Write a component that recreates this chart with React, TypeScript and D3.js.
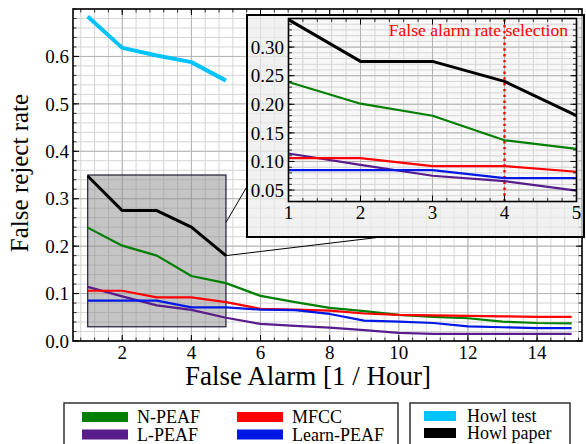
import React from "react";
import { scaleLinear, line, range } from "d3";

// false alarms per hour
const falseAlarms = [1, 2, 3, 4, 5, 6, 7, 8, 9, 10, 11, 12, 13, 14, 15];

const nPeaf = [0.239, 0.201, 0.18, 0.137, 0.122, 0.095, 0.082, 0.07, 0.063, 0.055, 0.051, 0.048, 0.041, 0.038, 0.037];
const lPeaf = [0.114, 0.094, 0.075, 0.0655, 0.049, 0.036, 0.032, 0.028, 0.023, 0.017, 0.015, 0.015, 0.015, 0.015, 0.015];
const mfcc = [0.106, 0.106, 0.092, 0.092, 0.082, 0.068, 0.066, 0.064, 0.058, 0.055, 0.054, 0.053, 0.052, 0.051, 0.051];
const learnPeaf = [0.085, 0.085, 0.085, 0.071, 0.071, 0.066, 0.065, 0.057, 0.043, 0.041, 0.038, 0.031, 0.029, 0.027, 0.027];
const howlTest = [0.684, 0.618, 0.602, 0.588, 0.549];
const howlPaper = [0.348, 0.275, 0.275, 0.24, 0.18];

const xTicks = [2, 4, 6, 8, 10, 12, 14];
const yTicks = [0, 0.1, 0.2, 0.3, 0.4, 0.5, 0.6];
const insetXTicks = [1, 2, 3, 4, 5];
const insetYTicks = [0.05, 0.1, 0.15, 0.2, 0.25, 0.3];

const zoomBox = { x0: 1, x1: 5, y0: 0.03, y1: 0.35 };
const selectedRate = 4;

const series = [
  { name: "N-PEAF", values: nPeaf, color: "#007f00", width: 2.2 },
  { name: "L-PEAF", values: lPeaf, color: "#581c8c", width: 2.2 },
  { name: "MFCC", values: mfcc, color: "#ff0000", width: 2.2 },
  { name: "Learn-PEAF", values: learnPeaf, color: "#0018e6", width: 2.2 },
  { name: "Howl test", values: howlTest, color: "#00c3fa", width: 4 },
  { name: "Howl paper", values: howlPaper, color: "#000000", width: 3 },
];

const serif: React.CSSProperties = { fontFamily: "'Liberation Serif'" };

export default function App() {
  const W = 586;
  const H = 444;

  const x = scaleLinear().domain([0.575, 15.3]).range([73, 582]);
  const y = scaleLinear().domain([0, 0.7]).range([341, 9]);

  const ix = scaleLinear().domain([1, 5]).range([288.5, 576.5]);
  const iy = scaleLinear().domain([0.03, 0.35]).range([201.5, 18.5]);

  const mainLine = line<number>().x((_, i) => x(falseAlarms[i])).y((d) => y(d));
  const insetLine = line<number>().x((_, i) => ix(falseAlarms[i])).y((d) => iy(d));

  const xMinor = range(0.8, 15.3, 0.4);
  const yMinor = range(0, 0.7001, 0.02);
  const ixMinor = range(1, 5.001, 0.2);
  const iyMinor = range(0.03, 0.3501, 0.01);

  const [xa, xb] = x.range();
  const [ya, yb] = y.range();
  const [ixa, ixb] = ix.range();
  const [iya, iyb] = iy.range();

  // inset frame (figure patch around inset axes)
  const frame = { x: 247, y: 15, w: 337, h: 222 };

  // legend order: row by row
  const legendA = [series[0], series[2], series[1], series[3]];
  const legendB = [series[4], series[5]];

  return (
    <div style={{ position: "absolute", left: 0, top: 0 }}>
      <svg width={W} height={H} style={{ display: "block", background: "#fff", ...serif }}>
        {/* main grid */}
        <g>
          {xMinor.map((v) => (
            <line key={"xm" + v} x1={x(v)} x2={x(v)} y1={yb} y2={ya} stroke="#d4d4d4" strokeWidth={1} />
          ))}
          {yMinor.map((v) => (
            <line key={"ym" + v} x1={xa} x2={xb} y1={y(v)} y2={y(v)} stroke="#d4d4d4" strokeWidth={1} />
          ))}
          {xTicks.map((v) => (
            <line key={"xg" + v} x1={x(v)} x2={x(v)} y1={yb} y2={ya} stroke="#b4b4b4" strokeWidth={1} />
          ))}
          {yTicks.map((v) => (
            <line key={"yg" + v} x1={xa} x2={xb} y1={y(v)} y2={y(v)} stroke="#b4b4b4" strokeWidth={1} />
          ))}
        </g>

        {/* zoom region */}
        <rect
          x={x(zoomBox.x0)}
          y={y(zoomBox.y1)}
          width={x(zoomBox.x1) - x(zoomBox.x0)}
          height={y(zoomBox.y0) - y(zoomBox.y1)}
          fill="#8c8c8c"
          fillOpacity={0.5}
          stroke="#1c1c38"
          strokeWidth={1.2}
        />

        {/* main series */}
        {series.map((s) => (
          <path key={s.name} d={mainLine(s.values)!} fill="none" stroke={s.color} strokeWidth={s.width} strokeLinejoin="round" />
        ))}

        {/* main axes ticks */}
        <g stroke="#000">
          {xMinor.map((v) => (
            <g key={"xt" + v}>
              <line x1={x(v)} x2={x(v)} y1={ya} y2={ya - 3.5} strokeWidth={0.8} />
              <line x1={x(v)} x2={x(v)} y1={yb} y2={yb + 3.5} strokeWidth={0.8} />
            </g>
          ))}
          {xTicks.map((v) => (
            <g key={"xT" + v}>
              <line x1={x(v)} x2={x(v)} y1={ya} y2={ya - 6} strokeWidth={1} />
              <line x1={x(v)} x2={x(v)} y1={yb} y2={yb + 6} strokeWidth={1} />
            </g>
          ))}
          {yMinor.map((v) => (
            <g key={"yt" + v}>
              <line x1={xa} x2={xa + 3.5} y1={y(v)} y2={y(v)} strokeWidth={0.8} />
              <line x1={xb} x2={xb - 3.5} y1={y(v)} y2={y(v)} strokeWidth={0.8} />
            </g>
          ))}
          {yTicks.map((v) => (
            <g key={"yT" + v}>
              <line x1={xa} x2={xa + 6} y1={y(v)} y2={y(v)} strokeWidth={1} />
              <line x1={xb} x2={xb - 6} y1={y(v)} y2={y(v)} strokeWidth={1} />
            </g>
          ))}
        </g>
        <rect x={xa} y={yb} width={xb - xa} height={ya - yb} fill="none" stroke="#000" strokeWidth={1.6} />

        {/* tick labels */}
        {xTicks.map((v) => (
          <text key={"xl" + v} x={x(v)} y={359} textAnchor="middle" fontSize={19} style={serif}>
            {v}
          </text>
        ))}
        {yTicks.map((v) => (
          <text key={"yl" + v} x={69} y={y(v)} dy="0.35em" textAnchor="end" fontSize={19} style={serif}>
            {v.toFixed(1)}
          </text>
        ))}

        {/* axis labels */}
        <text x={308} y={385} textAnchor="middle" fontSize={27} style={serif}>
          False Alarm [1 / Hour]
        </text>
        <text transform="translate(28,173) rotate(-90)" textAnchor="middle" fontSize={25} style={serif}>
          False reject rate
        </text>

        {/* connectors to inset */}
        <line x1={x(zoomBox.x1)} y1={y(0.25)} x2={frame.x} y2={186.5} stroke="#000" strokeWidth={1} />
        <line x1={x(zoomBox.x1)} y1={y(howlPaper[4])} x2={381.5} y2={frame.y + frame.h} stroke="#000" strokeWidth={1} />

        {/* inset frame */}
        <rect x={frame.x} y={frame.y} width={frame.w} height={frame.h} fill="#ececec" fillOpacity={0.72} stroke="#000" strokeWidth={2} />

        {/* inset axes */}
        <rect x={ixa} y={iyb} width={ixb - ixa} height={iya - iyb} fill="#fff" fillOpacity={0.6} />
        <g>
          {ixMinor.map((v) => (
            <line key={"ixm" + v} x1={ix(v)} x2={ix(v)} y1={iyb} y2={iya} stroke="#d4d4d4" strokeWidth={1} />
          ))}
          {iyMinor.map((v) => (
            <line key={"iym" + v} x1={ixa} x2={ixb} y1={iy(v)} y2={iy(v)} stroke="#d4d4d4" strokeWidth={1} />
          ))}
          {insetXTicks.map((v) => (
            <line key={"ixg" + v} x1={ix(v)} x2={ix(v)} y1={iyb} y2={iya} stroke="#b4b4b4" strokeWidth={1} />
          ))}
          {insetYTicks.map((v) => (
            <line key={"iyg" + v} x1={ixa} x2={ixb} y1={iy(v)} y2={iy(v)} stroke="#b4b4b4" strokeWidth={1} />
          ))}
        </g>

        <text x={568} y={36} textAnchor="end" fontSize={17.6} fill="#ff0000" style={serif}>
          False alarm rate selection
        </text>
        <line x1={ix(selectedRate)} x2={ix(selectedRate)} y1={iya} y2={iyb} stroke="#ff0000" strokeWidth={2.4} strokeDasharray="2.4 3.4" />

        <g>
          {series.map((s) => (
            <path
              key={"i" + s.name}
              d={insetLine(s.values.slice(0, 5))!}
              fill="none"
              stroke={s.color}
              strokeWidth={s.width}
              strokeLinejoin="round"
            />
          ))}
        </g>

        <g stroke="#000">
          {ixMinor.map((v) => (
            <g key={"ixt" + v}>
              <line x1={ix(v)} x2={ix(v)} y1={iya} y2={iya - 3.5} strokeWidth={0.8} />
              <line x1={ix(v)} x2={ix(v)} y1={iyb} y2={iyb + 3.5} strokeWidth={0.8} />
            </g>
          ))}
          {insetXTicks.map((v) => (
            <g key={"ixT" + v}>
              <line x1={ix(v)} x2={ix(v)} y1={iya} y2={iya - 6} strokeWidth={1} />
              <line x1={ix(v)} x2={ix(v)} y1={iyb} y2={iyb + 6} strokeWidth={1} />
            </g>
          ))}
          {iyMinor.map((v) => (
            <g key={"iyt" + v}>
              <line x1={ixa} x2={ixa + 3.5} y1={iy(v)} y2={iy(v)} strokeWidth={0.8} />
              <line x1={ixb} x2={ixb - 3.5} y1={iy(v)} y2={iy(v)} strokeWidth={0.8} />
            </g>
          ))}
          {insetYTicks.map((v) => (
            <g key={"iyT" + v}>
              <line x1={ixa} x2={ixa + 6} y1={iy(v)} y2={iy(v)} strokeWidth={1} />
              <line x1={ixb} x2={ixb - 6} y1={iy(v)} y2={iy(v)} strokeWidth={1} />
            </g>
          ))}
        </g>
        <rect x={ixa} y={iyb} width={ixb - ixa} height={iya - iyb} fill="none" stroke="#000" strokeWidth={1.6} />

        {insetXTicks.map((v) => (
          <text key={"ixl" + v} x={ix(v)} y={219} textAnchor="middle" fontSize={19} style={serif}>
            {v}
          </text>
        ))}
        {insetYTicks.map((v) => (
          <text key={"iyl" + v} x={284} y={iy(v)} dy="0.35em" textAnchor="end" fontSize={19} style={serif}>
            {v.toFixed(2)}
          </text>
        ))}

        {/* legends */}
        <rect x={64} y={403} width={334} height={50} fill="#fff" stroke="#222" strokeWidth={1.4} />
        {legendA.map((s, i) => {
          const col = i % 2;
          const row = Math.floor(i / 2);
          const lx = col === 0 ? 82 : 237;
          const ly = row === 0 ? 417 : 434.5;
          return (
            <g key={"la" + s.name}>
              <rect x={lx} y={ly - 5} width={46} height={10} fill={s.color} />
              <text x={lx + 55} y={ly} dy="0.34em" fontSize={18} style={serif}>
                {s.name}
              </text>
            </g>
          );
        })}
        <rect x={410} y={403} width={160} height={50} fill="#fff" stroke="#222" strokeWidth={1.4} />
        {legendB.map((s, i) => {
          const ly = i === 0 ? 416 : 433;
          return (
            <g key={"lb" + s.name}>
              <rect x={424} y={ly - 5} width={32} height={10} fill={s.color} />
              <text x={467} y={ly} dy="0.34em" fontSize={18} style={serif}>
                {s.name}
              </text>
            </g>
          );
        })}
      </svg>
    </div>
  );
}
